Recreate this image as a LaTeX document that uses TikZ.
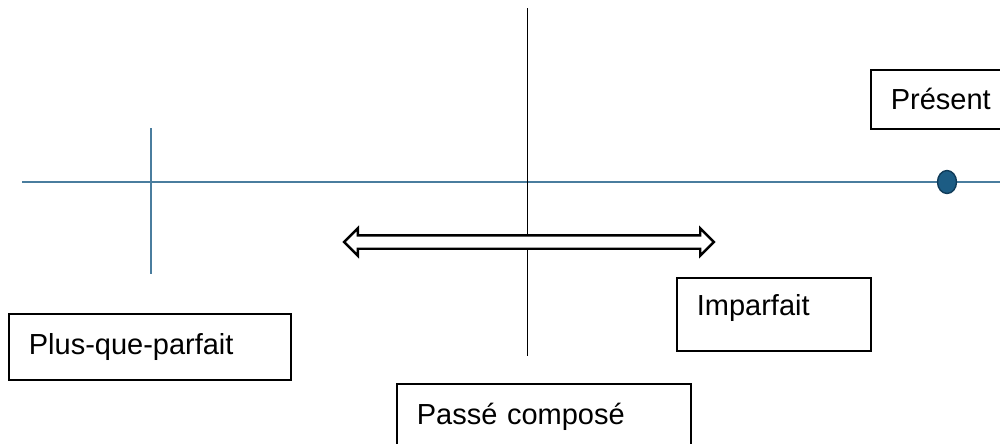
\documentclass[tikz,border=0pt]{standalone}
\usepackage{fontspec}
\setmainfont{Liberation Sans}
\usetikzlibrary{shapes.arrows,shapes.geometric}
\definecolor{lineblue}{RGB}{74,125,158}
\definecolor{dotblue}{RGB}{28,92,132}
\definecolor{dotedge}{RGB}{16,60,90}
\begin{document}
\begin{tikzpicture}[x=0.02cm,y=-0.02cm]

      \useasboundingbox (0,0) rectangle (1000,443);

      % points of the lines
      \coordinate (tl) at (22,182);
      \coordinate (tr) at (1002,182);
      \coordinate (pqpTop) at (151,128);
      \coordinate (pqpBot) at (151,274);
      \coordinate (pcTop) at (527,8);
      \coordinate (pcBot) at (527,356);

      \begin{scope}[every node/.style={draw, line width=1pt, anchor=north west, align=left,
          inner xsep=0.4cm, font=\fontsize{16.5}{19}\selectfont}]
        \node[minimum width=2.9cm, minimum height=1.18cm, text width=2.1cm] (present) at (870,69) {Présent};
        \node[minimum width=3.88cm, minimum height=1.46cm, text width=3.08cm, text depth=0.38cm] (imparfait) at (676,277) {Imparfait};
        \node[minimum width=5.64cm, minimum height=1.32cm, text width=4.84cm] (pqp) at (8,313) {Plus-que-parfait};
        \node[minimum width=5.88cm, minimum height=1.3cm, text width=5.08cm] (pc) at (396,383) {Passé composé};
      \end{scope}

      \draw[lineblue, line width=0.6pt] (tl) -- (tr);
      \draw[lineblue, line width=0.6pt] (pqpTop) -- (pqpBot);
      \draw[black, line width=0.5pt] (pcTop) -- (pcBot);

      \node[ellipse, draw=dotedge, fill=dotblue, line width=0.8pt, minimum width=0.38cm,
        minimum height=0.46cm, inner sep=0pt] (now) at (947,182) {};

      \node[double arrow, draw, line width=1.4pt, fill=white, inner xsep=0pt, inner ysep=0.11cm,
        minimum height=7.4cm, minimum width=0.52cm, double arrow head extend=0.14cm] (span) at (529,242) {};

\end{tikzpicture}
\end{document}
